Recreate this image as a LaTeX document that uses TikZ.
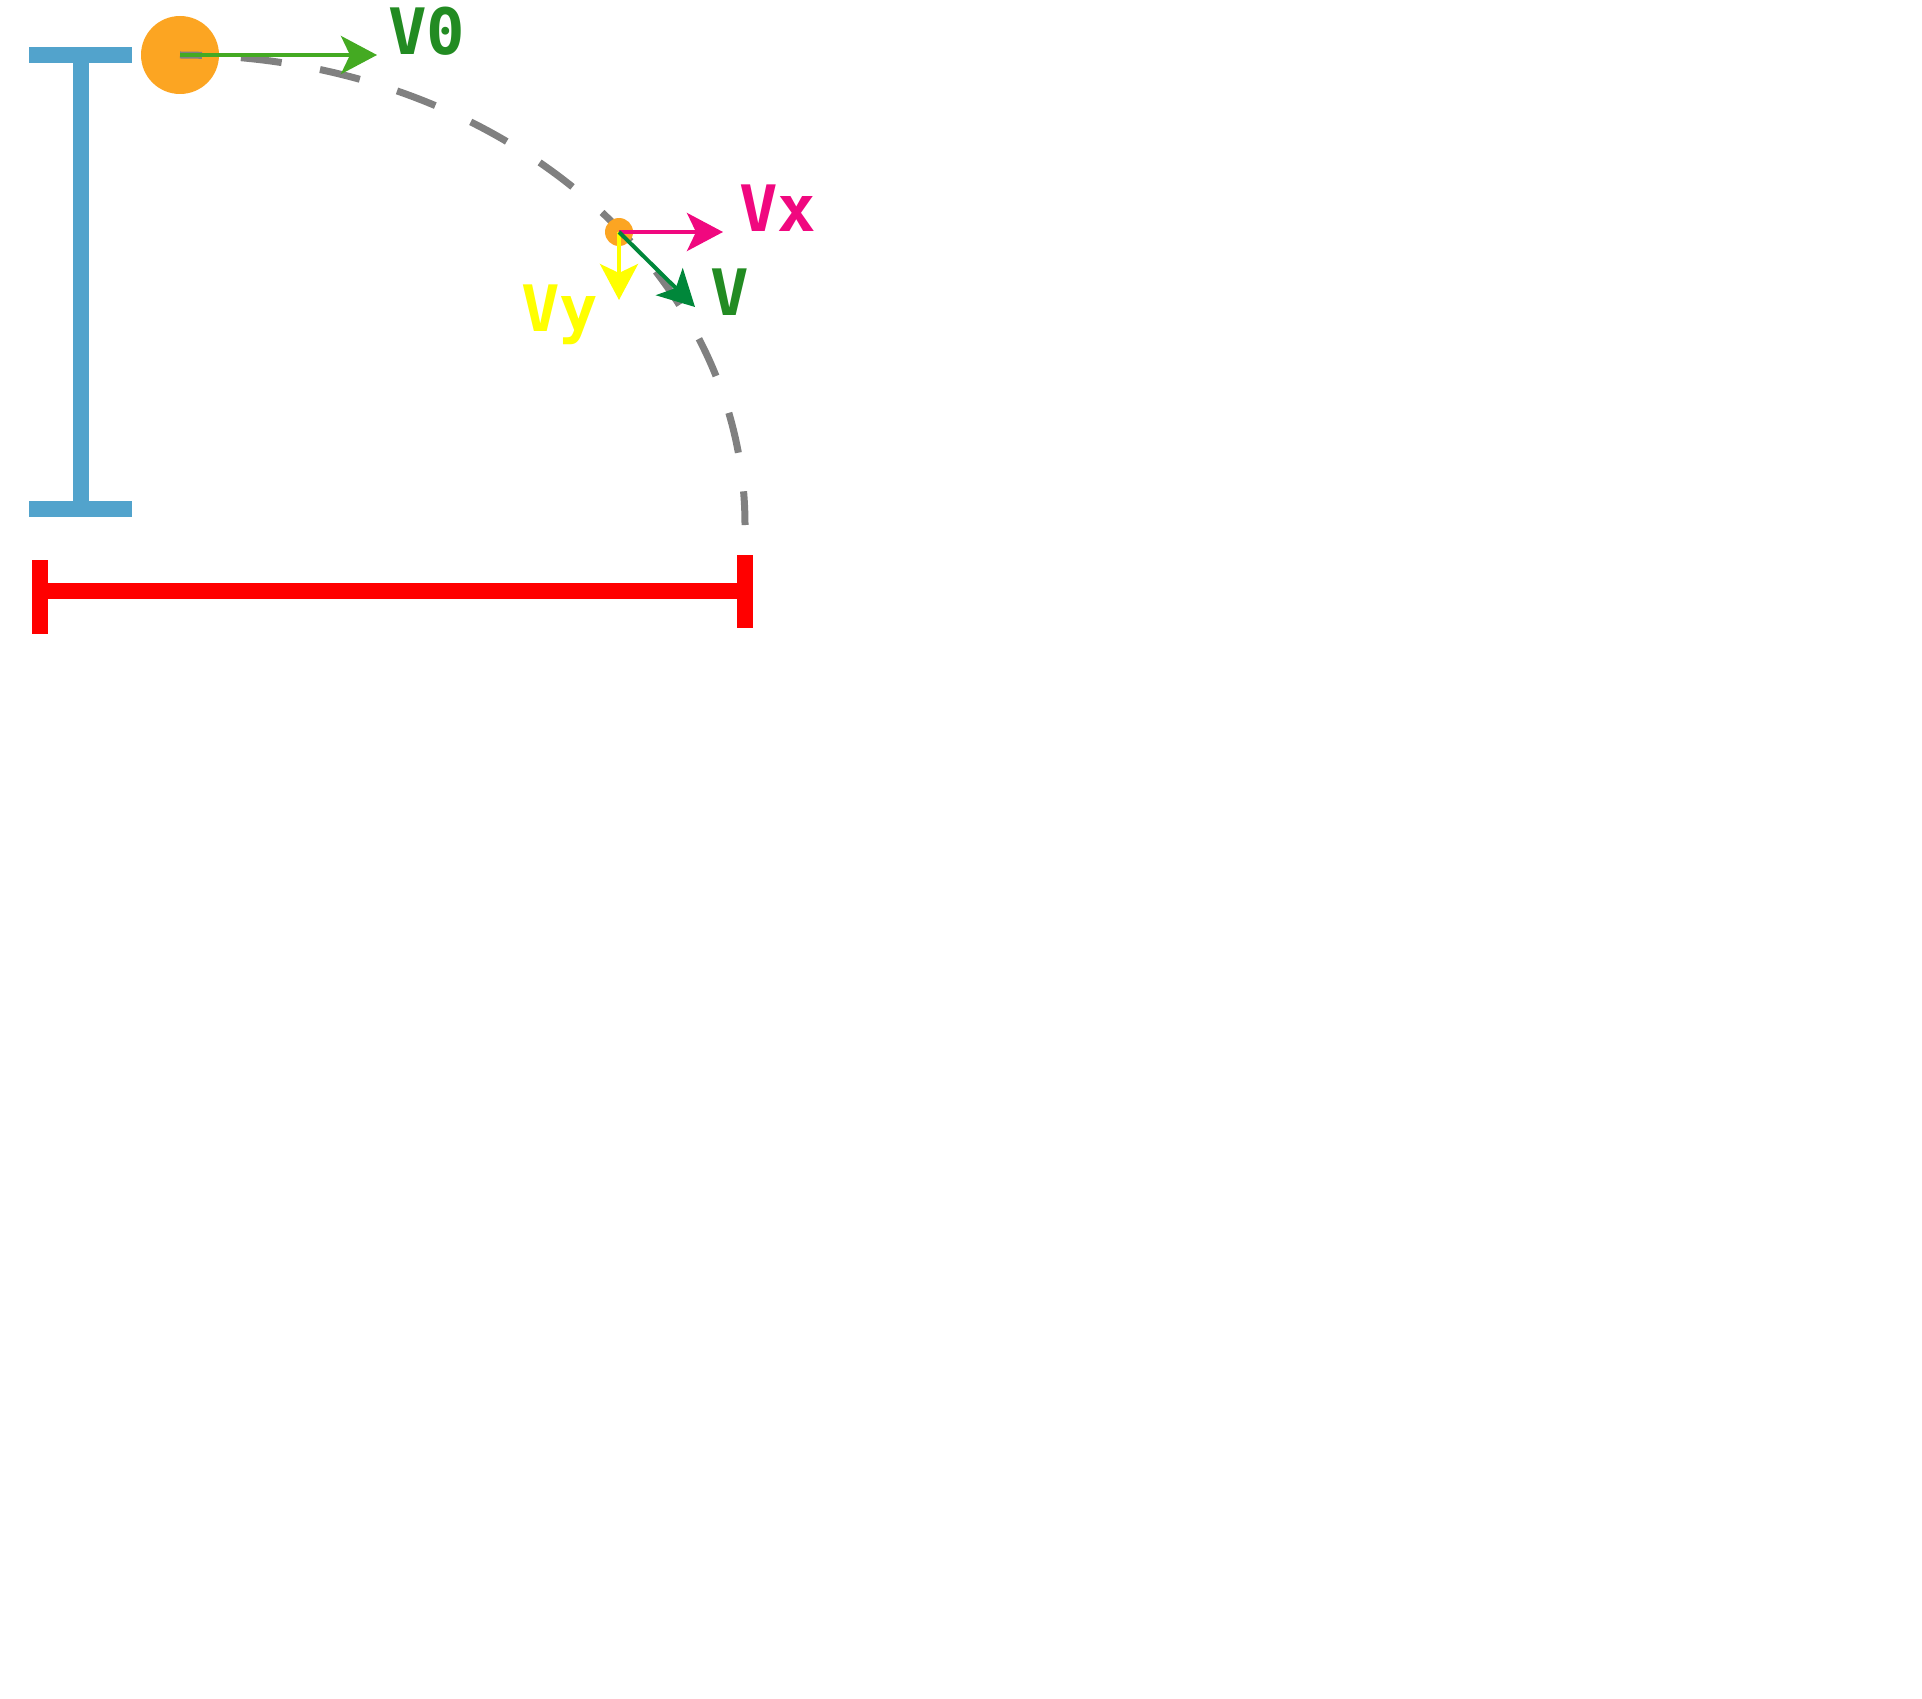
\documentclass[tikz,border=0pt]{standalone}
\usepackage{fontspec}
\usepackage{tikz}
\usetikzlibrary{arrows.meta}
\newfontfamily\pixelfont{DejaVu Sans Mono}

\definecolor{ballorange}{HTML}{FCA522}
\definecolor{beamblue}{HTML}{52A3CC}
\definecolor{vzerogreen}{HTML}{44AA22}
\definecolor{labelgreen}{HTML}{228B22}
\definecolor{vxpink}{HTML}{F0087F}
\definecolor{vyyellow}{HTML}{FFFF00}
\definecolor{vgreen}{HTML}{00873A}
\definecolor{pathgray}{HTML}{808080}

\begin{document}
\begin{tikzpicture}[x=1pt, y=-1pt,
  ball/.style={shape=circle, fill=ballorange, inner sep=0pt},
  vec/.style={line width=4pt, -{Stealth[length=36pt, width=38pt, inset=9pt]}},
  beam/.style={line width=16pt, beamblue},
  span/.style={line width=16pt, red},
  vlabel/.style={anchor=base west, inner sep=0pt, font=\pixelfont\bfseries\fontsize{64}{64}\selectfont}]

\useasboundingbox (0,0) rectangle (1922,1699);

\draw[beam] (29,55) -- (132,55);
\draw[beam] (81,55) -- (81,509);
\draw[beam] (29,509) -- (132,509);

\draw[span] (40,591) -- (745,591);
\draw[span] (40,560) -- (40,634);
\draw[span] (745,555) -- (745,628);

\node[ball, minimum size=78pt] (ball) at (180,55) {};
\draw[pathgray, line width=7pt, dash pattern=on 41pt off 39pt, dash phase=19pt]
  (ball.center) arc[start angle=270, end angle=360, x radius=565, y radius=470];
\node[ball, minimum size=28pt] (fall) at (619,232) {};

\coordinate (v0tip) at (377,55);
\coordinate (vxtip) at (723,232);
\coordinate (vytip) at (619,300);
\coordinate (vtip) at (695,307);

\draw[vec, vzerogreen] (ball.center) -- (v0tip);
\draw[vec, vxpink] (fall.center) -- (vxtip);
\draw[vec, vyyellow] (fall.center) -- (vytip);
\draw[vec, vgreen] (fall.center) -- (vtip);

\node[vlabel, labelgreen] (v0) at (388,55) {V0};
\node[vlabel, vxpink] (vx) at (739,232) {Vx};
\node[vlabel, labelgreen] (v) at (710,315) {V};
\node[vlabel, vyyellow] (vy) at (521,331) {Vy};
\end{tikzpicture}
\end{document}
